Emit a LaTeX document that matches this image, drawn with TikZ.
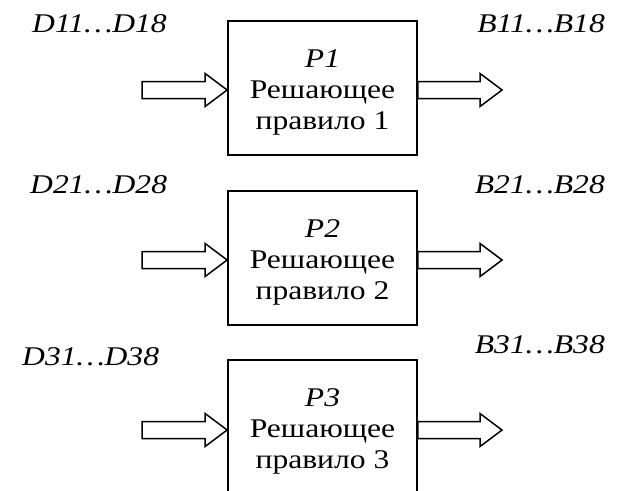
\documentclass[tikz,border=0pt]{standalone}
\usepackage{fontspec}
\setmainfont[FakeStretch=1.17]{Liberation Serif}
\usetikzlibrary{positioning,calc}

\tikzset{
  rulebox/.style={draw,line width=1.8pt,minimum width=189pt,minimum height=134pt,inner sep=0pt},
  ruletext/.style={align=center,font=\fontsize{27}{31}\selectfont},
  siglabel/.style={font=\fontsize{27}{31}\selectfont\itshape,inner sep=0pt},
  blockarrow/.style={line width=1.5pt,line join=miter,
    to path={let \p1=(\tikztostart), \p2=(\tikztotarget) in
      (\x1,\y1+8.5pt) -- (\x2-22pt,\y1+8.5pt) -- (\x2-22pt,\y1+16.5pt) -- (\x2,\y1)
      -- (\x2-22pt,\y1-16.5pt) -- (\x2-22pt,\y1-8.5pt) -- (\x1,\y1-8.5pt) -- cycle}}
}

\begin{document}
\begin{tikzpicture}[x=1pt,y=-1pt]
  \useasboundingbox[fill=white] (0,0) rectangle (617,490);
  \clip (0,0) rectangle (617,490);
  % rule 1
  \node[rulebox] (r1) at (322.5,88) {};
  \node[ruletext] (t1) at ([yshift=-4pt]r1.center) {\textit{P1}\\Решающее\\правило 1};
  \node[siglabel,anchor=west] (d1) at (32,24) {D11\ldots D18};
  \node[siglabel,anchor=east] (b1) at (605,24) {B11\ldots B18};
  \coordinate (in1) at (142,90);
  \coordinate (out1) at (502,90);
  \draw[blockarrow] (in1) to (r1.west |- in1);
  \draw[blockarrow] (r1.east |- out1) to (out1);
  % rule 2
  \node[rulebox] (r2) at (322.5,258) {};
  \node[ruletext] (t2) at ([yshift=-4pt]r2.center) {\textit{P2}\\Решающее\\правило 2};
  \node[siglabel,anchor=west] (d2) at (30,185) {D21\ldots D28};
  \node[siglabel,anchor=east] (b2) at (605,185) {B21\ldots B28};
  \coordinate (in2) at (142,260);
  \coordinate (out2) at (502,260);
  \draw[blockarrow] (in2) to (r2.west |- in2);
  \draw[blockarrow] (r2.east |- out2) to (out2);
  % rule 3
  \node[rulebox] (r3) at (322.5,427) {};
  \node[ruletext] (t3) at ([yshift=-4pt]r3.center) {\textit{P3}\\Решающее\\правило 3};
  \node[siglabel,anchor=west] (d3) at (22,357) {D31\ldots D38};
  \node[siglabel,anchor=east] (b3) at (605,345) {B31\ldots B38};
  \coordinate (in3) at (142,430);
  \coordinate (out3) at (502,430);
  \draw[blockarrow] (in3) to (r3.west |- in3);
  \draw[blockarrow] (r3.east |- out3) to (out3);
\end{tikzpicture}
\end{document}
